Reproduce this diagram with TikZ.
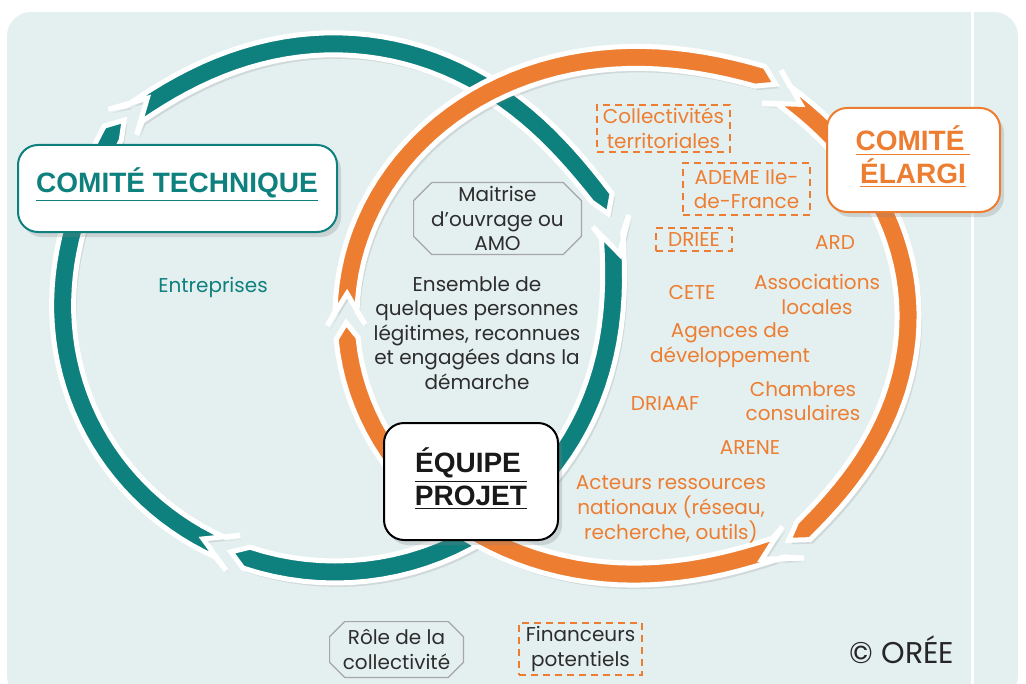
\documentclass[tikz,border=0pt]{standalone}
\usepackage{fontspec}
\setmainfont{Poppins}
\newfontfamily\headfont{Liberation Sans}
\usetikzlibrary{shadows}
\definecolor{panel}{RGB}{228,240,240}
\definecolor{ringteal}{RGB}{14,128,126}
\definecolor{ringorange}{RGB}{237,125,49}
\definecolor{ink}{RGB}{45,45,45}
\definecolor{octline}{RGB}{165,165,170}

% one chevron piece of a ring: centre, radii, tail angle, head angle,
% bulge at tail, bulge at head, colour
\newcommand{\ringpart}[9]{%
  \pgfmathsetmacro\rspan{#6-#5}%
  \def\roff{((#7)*((#6-\t)/\rspan)^8+(#8)*((\t-#5)/\rspan)^8)}%
  \fill[#9, ringedge]
    ({#1+(#3+#7+19)*cos(#5)}, {#2+(#4+#7+19)*sin(#5)})
    -- plot[domain=#5+3:#6, samples=40, variable=\t]
         ({#1+(#3+11+\roff)*cos(\t)}, {#2+(#4+11+\roff)*sin(\t)})
    -- ({#1+(#3+#8)*cos(#6+3.5)}, {#2+(#4+#8)*sin(#6+3.5)})
    -- plot[domain=#6:#5+3, samples=40, variable=\t]
         ({#1+(#3-11+\roff)*cos(\t)}, {#2+(#4-11+\roff)*sin(\t)})
    -- ({#1+(#3+#7-19)*cos(#5)}, {#2+(#4+#7-19)*sin(#5)})
    -- ({#1+(#3+#7)*cos(#5+7)}, {#2+(#4+#7)*sin(#5+7)}) -- cycle;}

% cut-corner frame round a node
\newcommand{\octframe}[2]{%
  \draw[octline,line width=0.6pt]
    ([xshift=#2]#1.north west) -- ([xshift=-#2]#1.north east)
    -- ([yshift=-#2]#1.north east) -- ([yshift=#2]#1.south east)
    -- ([xshift=-#2]#1.south east) -- ([xshift=#2]#1.south west)
    -- ([yshift=#2]#1.south west) -- ([yshift=-#2]#1.north west) -- cycle;}

% underline running a little past the word
\newcommand{\ulong}[1]{\underline{#1\hspace{3pt}}\hspace{-3pt}}

\begin{document}
\begin{tikzpicture}[x=0.5pt,y=-0.5pt,
    ringedge/.style={draw=white,line width=2.5pt,line join=miter,miter limit=3,
      drop shadow={opacity=0.2,shadow xshift=1.5pt,shadow yshift=-2pt}},
    txt/.style={font=\fontsize{10}{12.3}\selectfont,align=center,inner sep=0pt,text=ink},
    org/.style={txt,text=ringorange},
    dbox/.style={draw=ringorange,dash pattern=on 3.5pt off 2.5pt,line width=0.9pt},
    bigbox/.style={rounded corners=10pt,fill=white,line width=1pt,
      drop shadow={opacity=0.25,shadow xshift=2pt,shadow yshift=-2.5pt}},
    title/.style={font=\headfont\bfseries\fontsize{14}{16.3}\selectfont,align=center,inner sep=0pt}]
  \useasboundingbox (0,0) rectangle (1026,684);
  \fill[panel,rounded corners=12pt] (7,12) rectangle (1018,700);
  \draw[white,line width=1.5pt] (972,12) -- (972,700);

  % teal ring
  \ringpart{335}{308}{272}{264}{112}{219}{0}{14}{ringteal}
  \ringpart{335}{308}{272}{264}{222}{337}{14}{18}{ringteal}
  \ringpart{335}{308}{272}{264}{342}{469}{18}{0}{ringteal}
  % orange ring
  \ringpart{627}{316}{281}{257}{178}{297}{0}{12}{ringorange}
  \ringpart{627}{316}{281}{257}{300}{413}{8}{12}{ringorange}
  \ringpart{627}{316}{281}{257}{416}{535}{16}{0}{ringorange}

  \node[bigbox,draw=ringteal,minimum width=159.5pt,minimum height=43.5pt] (tech) at (177.5,188.5) {};
  \node[title,text=ringteal,anchor=base] (techT) at (177,192) {\underline{COMITÉ TECHNIQUE}};
  \node[bigbox,draw=ringorange,minimum width=86.5pt,minimum height=52pt] (large) at (913.5,160) {};
  \node[title,text=ringorange] (largeT) at (913,157) {\ulong{COMITÉ}\\\underline{ÉLARGI}};
  \node[bigbox,draw=black,minimum width=87pt,minimum height=58.5pt] (team) at (471,481.5) {};
  \node[title,text=black!90] (teamT) at (471,479) {\ulong{ÉQUIPE}\\\underline{PROJET}};

  \node[txt,text=ringteal] (firms) at (213,287) {Entreprises};
  \node[txt,minimum width=83.5pt,minimum height=35.5pt] (moa) at (497.5,218.5) {Maitrise\\d’ouvrage ou\\AMO};
  \octframe{moa}{9pt}
  \node[txt] (core) at (477,333) {Ensemble de\\quelques personnes\\légitimes, reconnues\\et engagées dans la\\démarche};

  \node[org,dbox,minimum width=66.5pt,minimum height=23.5pt] (coll) at (663.5,128.5) {Collectivités\\territoriales};
  \node[org,dbox,minimum width=63.5pt,minimum height=26pt] (ademe) at (746.5,189) {ADEME Ile-\\de-France};
  \node[org,dbox,minimum width=38pt,minimum height=11.5pt] (driee) at (694,239.5) {DRIEE};
  \node[org] (ard) at (835,243) {ARD};
  \node[org] (assoc) at (817,294.5) {Associations\\locales};
  \node[org] (cete) at (692,292) {CETE};
  \node[org] (agences) at (730,345) {Agences de\\développement};
  \node[org] (chambres) at (803,401) {Chambres\\consulaires};
  \node[org] (driaaf) at (665,404) {DRIAAF};
  \node[org] (arene) at (750,448) {ARENE};
  \node[org] (acteurs) at (671,509.5) {Acteurs ressources\\nationaux (réseau,\\recherche, outils)};

  \node[txt,minimum width=66.5pt,minimum height=27.5pt] (role) at (396.5,649.5) {Rôle de la\\collectivité};
  \octframe{role}{7.5pt}
  \node[txt,dbox,minimum width=61.5pt,minimum height=26pt] (fund) at (580.5,649) {Financeurs\\potentiels};
  \node[txt,font=\fontsize{15}{18}\selectfont,text=black!85] (oree) at (902,650) {© ORÉE};
\end{tikzpicture}
\end{document}
